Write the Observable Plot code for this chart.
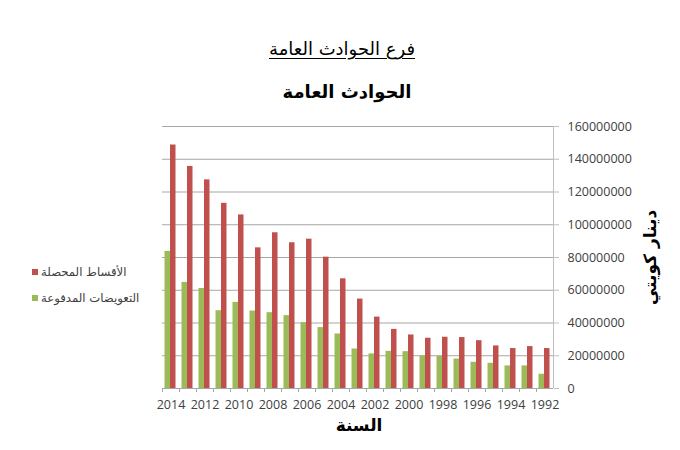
<!DOCTYPE html>
<html>
<head>
<meta charset="utf-8">
<script src="https://cdn.jsdelivr.net/npm/d3@7"></script>
<script src="https://cdn.jsdelivr.net/npm/@observablehq/plot@0.6"></script>
<style>
  html, body { margin: 0; padding: 0; background: #fff; }
  #wrap { position: relative; width: 680px; height: 450px; overflow: hidden; background: #fff; }
  .ar { font-family: "DejaVu Sans", sans-serif; }
  #t1 { position: absolute; top: 38px; left: 0; width: 684px; text-align: center; font-size: 18px; color: #000; }
  #t1 span { text-decoration: underline; text-underline-offset: 3px; }
  #t2 { position: absolute; top: 81px; left: 0; width: 694px; text-align: center; font-size: 18px; font-weight: bold; color: #000; }
  #legend { position: absolute; left: 32px; top: 259px; font-size: 11.7px; color: #404040; }
  .row { display: flex; align-items: center; height: 26px; }
  .sw { width: 6px; height: 6px; margin-right: 3px; }
  #chart { position: absolute; left: 0; top: 110px; }
</style>
</head>
<body>
<div id="wrap">
  <div id="t1" class="ar"><span>فرع الحوادث العامة</span></div>
  <div id="t2" class="ar">الحوادث العامة</div>
  <div id="legend" class="ar"></div>
  <div id="chart"></div>
</div>
<script>
const years = ["2014","2013","2012","2011","2010","2009","2008","2007","2006","2005","2004","2003",
               "2002","2001","2000","1999","1998","1997","1996","1995","1994","1993","1992"];
// الأقساط المحصلة (premiums collected)
const premiums = [148700000,135600000,127400000,113100000,106000000,85900000,95100000,89000000,91200000,80200000,67000000,54600000,
                  43600000,36100000,32700000,30700000,31300000,31100000,29200000,26000000,24400000,25600000,24400000];
// التعويضات المدفوعة (claims paid)
const claims = [83700000,64800000,61100000,47500000,52600000,47300000,46300000,44500000,40200000,37200000,33300000,24100000,
                21100000,22700000,22500000,19900000,19700000,18000000,16000000,15400000,13800000,13800000,8700000];
const yTicks = [0,20000000,40000000,60000000,80000000,100000000,120000000,140000000,160000000];
const xLabels = ["2014","2012","2010","2008","2006","2004","2002","2000","1998","1996","1994","1992"];
const seriesNames = ["الأقساط المحصلة", "التعويضات المدفوعة"];
const seriesColors = ["#c0504d", "#9bbb59"];
const xTitle = "السنة";
const yTitle = "دينار كويتي";

const premData = years.map((y, i) => ({year: y, value: premiums[i]}));
const claimData = years.map((y, i) => ({year: y, value: claims[i]}));

const bw = 391 / years.length;

const chart = Plot.plot({
  width: 680,
  height: 340,
  marginTop: 16,
  marginBottom: 62,
  marginLeft: 162,
  marginRight: 127,
  style: {fontFamily: "'Open Sans', sans-serif", fontSize: "12.5px", color: "#404040", background: "transparent"},
  x: {type: "band", domain: years, padding: 0, label: null},
  y: {domain: [0, 160000000], label: null},
  marks: [
    Plot.ruleY(yTicks, {stroke: "#a6a6a6", strokeWidth: 1}),
    Plot.ruleX([years[years.length - 1]], {dx: bw / 2, stroke: "#bfbfbf", strokeWidth: 1}),
    Plot.barY(claimData, {x: "year", y: "value", fill: seriesColors[1], insetLeft: 2.5, insetRight: 9}),
    Plot.barY(premData, {x: "year", y: "value", fill: seriesColors[0], insetLeft: 8, insetRight: 3.5}),
    Plot.axisX({ticks: years, tickSize: 4, tickFormat: () => "", dx: -bw / 2, stroke: "#a6a6a6"}),
    Plot.axisX({ticks: xLabels, tickSize: 0, tickPadding: 12, fill: "#404040"}),
    Plot.axisY({anchor: "right", ticks: yTicks, tickSize: 5, tickPadding: 9, stroke: "#bfbfbf",
                tickFormat: d3.format("d"), fill: "#404040"}),
    Plot.text([xTitle], {frameAnchor: "bottom", dy: 42, text: d => d, fontFamily: "DejaVu Sans",
                fontSize: 17, fontWeight: "bold", fill: "#000", dx: 1, textAnchor: "middle"}),
    Plot.text([yTitle], {frameAnchor: "right", dx: 97, rotate: -90, text: d => d, fontFamily: "DejaVu Sans",
                fontSize: 17, fontWeight: "bold", fill: "#000", textAnchor: "middle"})
  ]
});
document.getElementById("chart").appendChild(chart);

const legend = document.getElementById("legend");
seriesNames.forEach((name, i) => {
  const row = document.createElement("div");
  row.className = "row";
  const sw = document.createElement("div");
  sw.className = "sw";
  sw.style.background = seriesColors[i];
  const label = document.createElement("span");
  label.textContent = name;
  row.appendChild(sw);
  row.appendChild(label);
  legend.appendChild(row);
});
</script>
</body>
</html>
